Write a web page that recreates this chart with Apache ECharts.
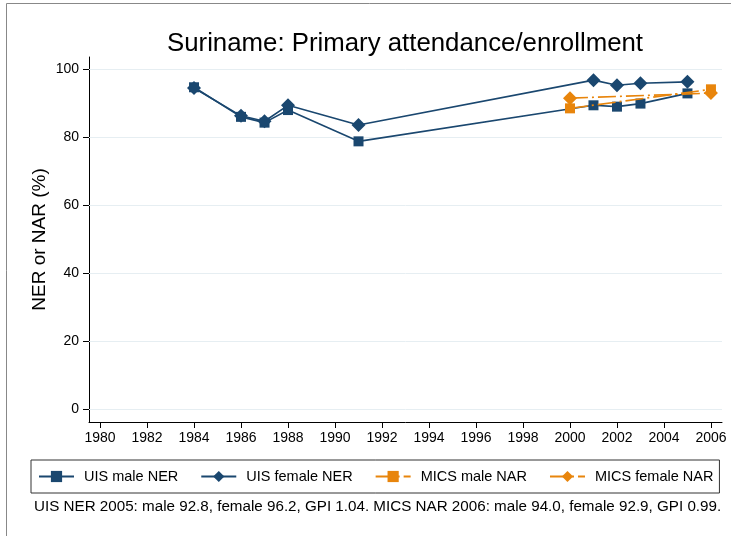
<!DOCTYPE html>
<html>
<head>
<meta charset="utf-8">
<script src="https://cdn.jsdelivr.net/npm/echarts@6/dist/echarts.min.js"></script>
<style>html,body{margin:0;padding:0;background:#fff;}#c{width:731px;height:536px;}</style>
</head>
<body>
<div id="c"></div>
<script>
var xTicks = [1980,1982,1984,1986,1988,1990,1992,1994,1996,1998,2000,2002,2004,2006];
var yTicks = [0,20,40,60,80,100];

var uisMaleYears = [1984,1986,1987,1988,1991,2001,2002,2003,2005];
var uisMale = [94.6,85.9,84.2,87.9,78.7,89.3,88.9,89.8,92.8];
var uisFemaleYears = [1984,1986,1987,1988,1991,2001,2002,2003,2005];
var uisFemale = [94.4,86.2,84.6,89.3,83.5,96.7,95.2,95.8,96.2];
var micsMaleYears = [2000,2006];
var micsMale = [88.4,94.0];
var micsFemaleYears = [2000,2006];
var micsFemale = [91.4,92.9];

var footnote = 'UIS NER 2005: male 92.8, female 96.2, GPI 1.04. MICS NAR 2006: male 94.0, female 92.9, GPI 0.99.';

function pairs(xs, ys){ return xs.map(function(x,i){ return [x, ys[i]]; }); }

var NAVY = '#1a476f', ORANGE = '#e8850c';
var FONT = 'Liberation Sans, Arial, sans-serif';
var DASHDOT = [18, 4, 2, 4];

var chart = echarts.init(document.getElementById('c'), null, {renderer:'canvas'});
chart.setOption({
  animation: false,
  backgroundColor: '#fff',
  title: {
    text: 'Suriname: Primary attendance/enrollment',
    left: 400, top: 26, textAlign: 'center',
    textStyle: {fontFamily: FONT, fontSize: 25.8, fontWeight: 'normal', color: '#000'}
  },
  grid: {left: 89, right: 9, top: 57, bottom: 114, containLabel: false},
  xAxis: {
    type: 'value', min: 1979.53, max: 2006.47,
    axisLine: {show: true, onZero: false, lineStyle: {color: '#000', width: 1}},
    axisTick: {show: true, length: 6, customValues: xTicks, lineStyle: {color: '#000'}},
    axisLabel: {customValues: xTicks, margin: 9, fontFamily: FONT, fontSize: 14, color: '#000',
      formatter: function(v){ return String(v); }},
    splitLine: {show: false}
  },
  yAxis: {
    type: 'value', min: -3.82, max: 103.5,
    name: 'NER or NAR (%)', nameLocation: 'middle', nameGap: 39.5, nameMoveOverlap: false,
    nameTextStyle: {fontFamily: FONT, fontSize: 19, color: '#000'},
    axisLine: {show: true, onZero: false, lineStyle: {color: '#000', width: 1}},
    axisTick: {show: true, length: 6, customValues: yTicks, lineStyle: {color: '#000'}},
    axisLabel: {customValues: yTicks, margin: 10, fontFamily: FONT, fontSize: 14, color: '#000',
      formatter: function(v){ return String(v); }},
    splitLine: {show: false}
  },
  legend: {
    left: 31, top: 460, orient: 'horizontal',
    itemWidth: 35, itemHeight: 14, itemGap: 22,
    padding: [9, 6, 9, 7],
    borderColor: '#333', borderWidth: 1,
    textStyle: {fontFamily: FONT, fontSize: 14.5, color: '#000', padding: [0, 0, 0, 5]},
    data: ['UIS male NER','UIS female NER','MICS male NAR','MICS female NAR']
  },
  graphic: [
    {type: 'rect', left: 4, top: 1, shape: {width: 740, height: 600}, style: {fill: 'none', stroke: '#888', lineWidth: 1}, silent: true},
    {type: 'text', left: 34, top: 499, style: {text: footnote, font: '15.2px ' + FONT, fill: '#000'}}
  ],
  series: [
    {
      name: 'UIS male NER', type: 'line', data: pairs(uisMaleYears, uisMale),
      symbol: 'rect', symbolSize: 10, z: 3,
      itemStyle: {color: NAVY}, lineStyle: {color: NAVY, width: 1.6},
      markLine: {
        silent: true, symbol: 'none', label: {show: false},
        lineStyle: {color: '#e6eef2', type: 'solid', width: 1},
        data: yTicks.map(function(v){ return {yAxis: v}; }), z: 1
      }
    },
    {
      name: 'UIS female NER', type: 'line', data: pairs(uisFemaleYears, uisFemale),
      symbol: 'diamond', symbolSize: 14, z: 3,
      itemStyle: {color: NAVY}, lineStyle: {color: NAVY, width: 1.6}
    },
    {
      name: 'MICS male NAR', type: 'line', data: pairs(micsMaleYears, micsMale),
      symbol: 'rect', symbolSize: 10, z: 4,
      itemStyle: {color: ORANGE}, lineStyle: {color: ORANGE, width: 1.6, type: DASHDOT}
    },
    {
      name: 'MICS female NAR', type: 'line', data: pairs(micsFemaleYears, micsFemale),
      symbol: 'diamond', symbolSize: 14, z: 4,
      itemStyle: {color: ORANGE}, lineStyle: {color: ORANGE, width: 1.6, type: DASHDOT}
    }
  ]
});
</script>
</body>
</html>
